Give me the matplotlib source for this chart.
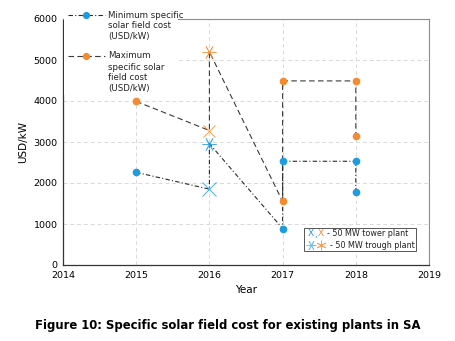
import matplotlib
matplotlib.use("Agg")
import matplotlib.pyplot as plt
from matplotlib.patches import Rectangle

# data
years = [2015, 2016, 2016, 2017, 2017, 2018, 2018]
max_cost = [3990, 3280, 5200, 1550, 4490, 4490, 3150]
min_cost = [2260, 1850, 2960, 890, 2530, 2530, 1790]
# marker kind per point: o = circle, x = tower plant, a = trough plant
max_kind = ["o", "x", "a", "o", "o", "o", "o"]
min_kind = ["o", "x", "a", "o", "o", "o", "o"]

BLUE = "#1f9be0"
ORANGE = "#f58a2e"
W, H = 456, 341

def fx(px):
    return px / W

def fy(py):
    return 1 - py / H

fig = plt.figure(figsize=(W / 100, H / 100), dpi=100)
ax = fig.add_axes([fx(63), fy(265), (429 - 63) / W, (265 - 19) / H])

ax.plot(years, max_cost, color="#3a3a3a", lw=0.8, ls=(0, (5, 3)), zorder=2)
ax.plot(years, min_cost, color="#2a2a2a", lw=0.8, ls=(0, (4, 2, 1, 2)), zorder=2)

def draw_markers(vals, kinds, color):
    for x, v, k in zip(years, vals, kinds):
        if k == "o":
            ax.plot(x, v, "o", color=color, ms=4.5, mec=color, zorder=3)
        elif k == "x":
            ax.plot(x, v, "x", color=color, ms=10 if color == BLUE else 9,
                    mew=0.7, alpha=0.8, zorder=3)
        else:
            ax.plot(x, v, marker=(6, 2, 90), color=color, ms=10,
                    mew=0.6, alpha=0.8, zorder=3)

draw_markers(max_cost, max_kind, ORANGE)
draw_markers(min_cost, min_kind, BLUE)

ax.set_xlim(2014, 2019)
ax.set_ylim(0, 6000)
ax.set_xticks(range(2014, 2020))
ax.set_yticks(range(0, 7000, 1000))
ax.grid(True, color="#d9d9d9", ls=(0, (4, 3)), lw=0.7)
ax.set_axisbelow(True)
ax.tick_params(length=0, labelsize=6.8, pad=4)
for s in ["top", "right"]:
    ax.spines[s].set_color("#8c8c8c")
    ax.spines[s].set_linewidth(0.8)
for s in ["left", "bottom"]:
    ax.spines[s].set_color("#333333")
    ax.spines[s].set_linewidth(0.9)
ax.set_xlabel("Year", fontsize=7.5, labelpad=4)
ax.set_ylabel("USD/kW", fontsize=7.5, labelpad=4)

# top-left legend (manual)
fig.patches.append(Rectangle((fx(64), fy(95)), fx(178) - fx(64), fy(10) - fy(95),
                             transform=fig.transFigure, facecolor="white",
                             edgecolor="none", zorder=5))
leg_font = dict(fontsize=6.2, color="#222222", va="center", ha="left", zorder=6)
fig.add_artist(plt.Line2D([fx(68), fx(105)], [fy(15), fy(15)], color="#2a2a2a", lw=0.8,
                          ls=(0, (4, 2, 1, 2)), transform=fig.transFigure, zorder=6))
fig.add_artist(plt.Line2D([fx(86)], [fy(15)], marker="o", ms=4.2, color=BLUE,
                          transform=fig.transFigure, zorder=7))
for i, t in enumerate(["Minimum specific", "solar field cost", "(USD/kW)"]):
    fig.text(fx(108), fy(15 + 11 * i), t, **leg_font)
fig.add_artist(plt.Line2D([fx(68), fx(105)], [fy(56), fy(56)], color="#3a3a3a", lw=0.8,
                          ls=(0, (5, 3)), transform=fig.transFigure, zorder=6))
fig.add_artist(plt.Line2D([fx(86)], [fy(56)], marker="o", ms=4.2, color=ORANGE,
                          transform=fig.transFigure, zorder=7))
for i, t in enumerate(["Maximum", "specific solar", "field cost", "(USD/kW)"]):
    fig.text(fx(108), fy(56 + 11 * i), t, **leg_font)

# lower-right legend (manual)
fig.patches.append(Rectangle((fx(304), fy(251)), fx(416) - fx(304), fy(228) - fy(251),
                             transform=fig.transFigure, facecolor="white",
                             edgecolor="#555555", lw=0.7, zorder=5))
fig.text(fx(308), fy(234), "X", color=BLUE, fontsize=6.5, va="center", zorder=6)
fig.text(fx(314), fy(234), ",", color=BLUE, fontsize=6.5, va="center", zorder=6)
fig.text(fx(318), fy(234), "X", color=ORANGE, fontsize=6.5, va="center", zorder=6)
fig.text(fx(327), fy(234), "- 50 MW tower plant", color="#222222", fontsize=5.8,
         va="center", zorder=6)
fig.add_artist(plt.Line2D([fx(311)], [fy(245)], marker=(6, 2, 90), ms=7, mew=0.6,
                          color=BLUE, alpha=0.6, transform=fig.transFigure, zorder=6))
fig.add_artist(plt.Line2D([fx(321)], [fy(245)], marker=(6, 2, 0), ms=7, mew=0.6,
                          color=ORANGE, alpha=0.8, transform=fig.transFigure, zorder=6))
fig.text(fx(330), fy(245), "- 50 MW trough plant", color="#222222", fontsize=5.8,
         va="center", zorder=6)

fig.text(0.5, fy(325), "Figure 10: Specific solar field cost for existing plants in SA",
         ha="center", va="center", fontsize=8.4, fontweight="bold")

fig.savefig("out.png", dpi=100)
